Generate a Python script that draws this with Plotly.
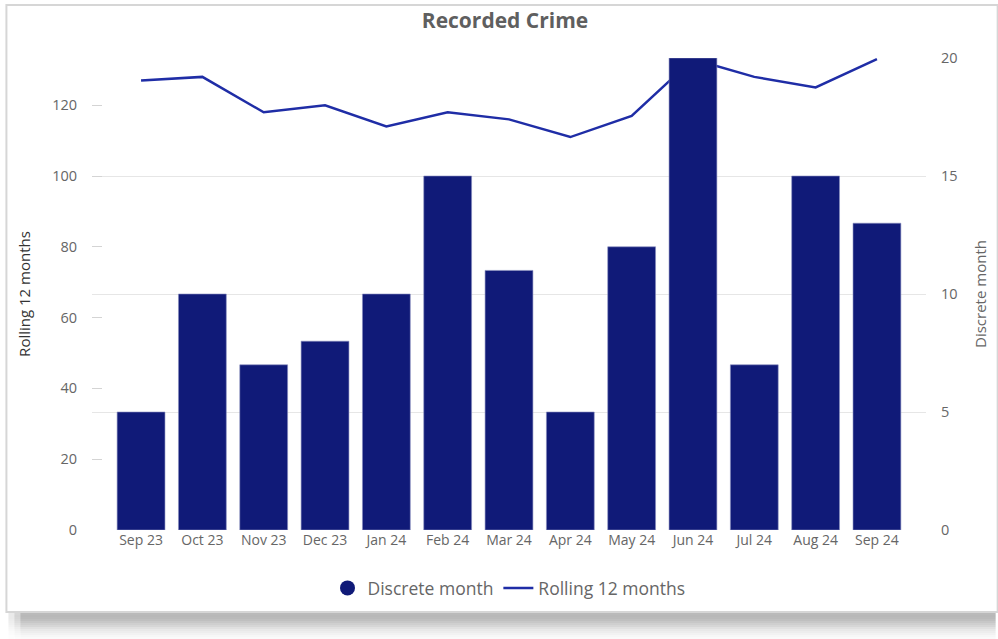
import plotly.graph_objects as go

months = ["Sep 23", "Oct 23", "Nov 23", "Dec 23", "Jan 24", "Feb 24", "Mar 24",
          "Apr 24", "May 24", "Jun 24", "Jul 24", "Aug 24", "Sep 24"]
discrete = [5, 10, 7, 8, 10, 15, 11, 5, 12, 20, 7, 15, 13]
rolling = [127, 128, 118, 120, 114, 118, 116, 111, 117, 133, 128, 125, 133]
left_ticks = [0, 20, 40, 60, 80, 100, 120]
right_ticks = [0, 5, 10, 15, 20]

BAR = "#101A78"
LINE = "#1F2DA6"
TXT = "#666666"
FONT = "Open Sans"


def px_x(p):
    return (p - 92) / 838


def px_y(p):
    return (530 - p) / 472


fig = go.Figure()
fig.add_trace(go.Bar(x=months, y=discrete, name="Discrete month", yaxis="y2",
                     marker=dict(color=BAR, line=dict(color="#8a8fc0", width=0.6)),
                     width=0.78, showlegend=False))
fig.add_trace(go.Scatter(x=[None], y=[None], name="Discrete month", mode="markers",
                         marker=dict(color=BAR, size=15, symbol="circle"), yaxis="y2"))
fig.add_trace(go.Scatter(x=months, y=rolling, name="Rolling 12 months", mode="lines",
                         line=dict(color=LINE, width=2.5), yaxis="y"))

# card shadow (soft gray gradient below the card) and card border
shapes = []
alphas = [0.27, 0.28, 0.27, 0.25, 0.22, 0.19, 0.16, 0.12, 0.09, 0.07, 0.05, 0.03, 0.02]
for i, a in enumerate(alphas):
    top = 613 + 2 * i
    for (xa, f) in [(20, 1.0), (14, 0.6), (8, 0.3)]:
        x1 = 1000
        x0 = xa
        if xa != 20:
            x1 = xa + 6
        shapes.append(dict(type="rect", xref="paper", yref="paper", layer="below",
                           x0=px_x(x0), x1=px_x(x1), y0=px_y(top + 2), y1=px_y(top),
                           fillcolor=f"rgba(0,0,0,{a * f:.3f})", line=dict(width=0)))
shapes.append(dict(type="rect", xref="paper", yref="paper", layer="below",
                   x0=px_x(6), x1=px_x(1002), y0=px_y(612), y1=px_y(5),
                   fillcolor="white", line=dict(color="#d6d6d6", width=2)))

fig.update_layout(
    width=998, height=639,
    margin=dict(l=92, r=68, t=58, b=109),
    paper_bgcolor="white", plot_bgcolor="rgba(0,0,0,0)",
    font=dict(family=FONT, color=TXT, size=14),
    title=dict(text="<b>Recorded Crime</b>", x=505 / 998, xanchor="center",
               y=1 - 21 / 639, yanchor="middle", font=dict(size=21, color="#5f5f5f")),
    shapes=shapes,
    xaxis=dict(range=[-0.8, 12.8], showgrid=False, showline=False, zeroline=False,
               tickfont=dict(size=14, color=TXT), ticks=""),
    yaxis=dict(range=[0, 133.333], tickvals=left_ticks, showgrid=False, zeroline=False,
               ticks="inside", ticklen=10, tickcolor="#d4d4d4", tickwidth=1.2,
               tickfont=dict(size=14.5, color=TXT), ticklabelstandoff=14,
               title=dict(text="Rolling 12 months", font=dict(size=15, color="#333333"), standoff=17)),
    yaxis2=dict(range=[0, 20], tickvals=right_ticks, overlaying="y", side="right",
                showgrid=True, gridcolor="#e6e6e6", gridwidth=1, zeroline=False,
                tickfont=dict(size=14.5, color=TXT), ticklabelstandoff=14,
                title=dict(text="Discrete month", font=dict(size=15, color=TXT), standoff=18)),
    legend=dict(orientation="h", x=0.5, xanchor="center", y=px_y(588), yanchor="middle",
                font=dict(size=17.5, color=TXT), itemsizing="trace", traceorder="normal",
                itemwidth=30),
)
fig.write_html("out.html")
